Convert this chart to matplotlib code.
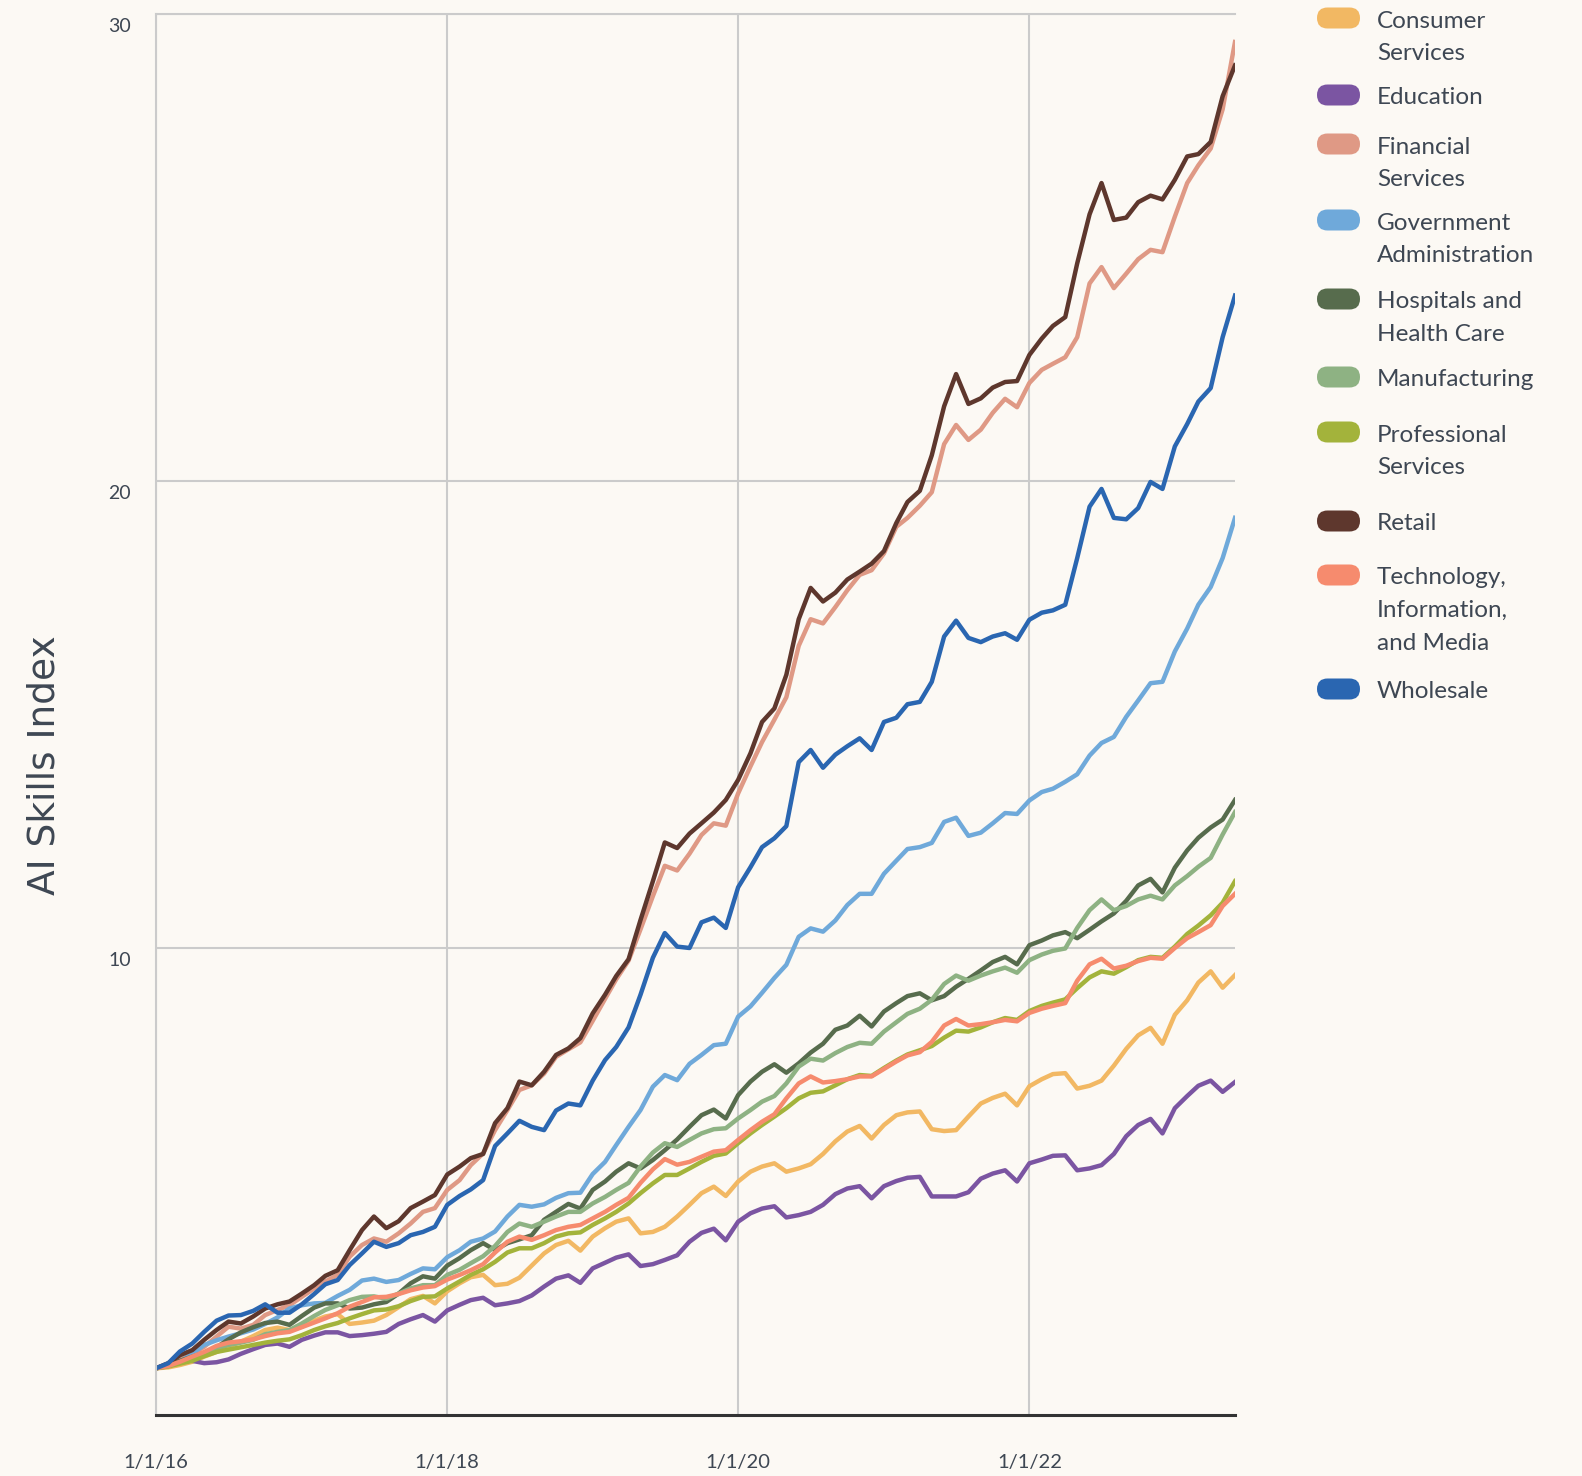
import matplotlib
matplotlib.use('Agg')
import matplotlib.pyplot as plt
import matplotlib.transforms as mtransforms
from matplotlib.patches import FancyBboxPatch
import pandas as pd

# monthly index values, Jan 2016 .. Jun 2023
months = pd.date_range('2016-01-01', periods=90, freq='MS')

consumer = [1.0, 1.02, 1.07, 1.14, 1.25, 1.35, 1.46, 1.57, 1.69, 1.82,
            1.87, 1.82, 1.89, 2.02, 2.11, 2.16, 1.95, 1.98, 2.02, 2.14,
            2.31, 2.48, 2.55, 2.39, 2.65, 2.82, 2.95, 3.0, 2.78, 2.81,
            2.94, 3.2, 3.46, 3.64, 3.73, 3.52, 3.82, 4.0, 4.14, 4.21,
            3.89, 3.92, 4.03, 4.25, 4.5, 4.75, 4.89, 4.69, 5.0, 5.21,
            5.32, 5.39, 5.21, 5.28, 5.37, 5.59, 5.86, 6.07, 6.19, 5.92,
            6.21, 6.42, 6.48, 6.5, 6.12, 6.08, 6.1, 6.39, 6.67, 6.79,
            6.88, 6.63, 7.04, 7.19, 7.3, 7.32, 6.99, 7.05, 7.16, 7.48,
            7.84, 8.13, 8.29, 7.95, 8.57, 8.88, 9.26, 9.5, 9.15, 9.42]
education = [1.0, 1.09, 1.18, 1.16, 1.11, 1.13, 1.19, 1.31, 1.41, 1.5,
             1.53, 1.46, 1.61, 1.7, 1.77, 1.77, 1.69, 1.71, 1.74, 1.78,
             1.95, 2.05, 2.14, 2.0, 2.24, 2.36, 2.46, 2.51, 2.35, 2.39,
             2.44, 2.56, 2.75, 2.92, 2.99, 2.83, 3.14, 3.26, 3.37, 3.44,
             3.19, 3.23, 3.32, 3.42, 3.71, 3.9, 3.99, 3.74, 4.14, 4.32,
             4.42, 4.47, 4.23, 4.28, 4.35, 4.5, 4.73, 4.85, 4.9, 4.64,
             4.9, 5.01, 5.08, 5.1, 4.68, 4.68, 4.68, 4.77, 5.06, 5.17,
             5.24, 5.0, 5.39, 5.47, 5.55, 5.56, 5.24, 5.28, 5.35, 5.59,
             5.97, 6.21, 6.34, 6.03, 6.57, 6.83, 7.05, 7.16, 6.92, 7.13]
financial = [1.0, 1.07, 1.18, 1.31, 1.46, 1.68, 1.89, 1.85, 1.93, 2.14,
             2.25, 2.35, 2.53, 2.71, 2.86, 3.0, 3.39, 3.64, 3.78, 3.71,
             3.89, 4.1, 4.35, 4.43, 4.82, 5.03, 5.35, 5.6, 6.1, 6.53,
             6.96, 7.06, 7.31, 7.67, 7.83, 7.98, 8.44, 8.91, 9.33, 9.73,
             10.4, 11.11, 11.76, 11.66, 12.02, 12.42, 12.67, 12.62, 13.31, 13.89,
             14.41, 14.89, 15.37, 16.47, 17.04, 16.95, 17.3, 17.66, 17.99, 18.09,
             18.45, 19.02, 19.21, 19.47, 19.76, 20.79, 21.2, 20.88, 21.1, 21.46,
             21.76, 21.58, 22.1, 22.38, 22.51, 22.65, 23.08, 24.23, 24.58, 24.13,
             24.44, 24.75, 24.95, 24.9, 25.66, 26.38, 26.76, 27.12, 27.96, 29.4]
government = [1.0, 1.05, 1.14, 1.31, 1.5, 1.6, 1.68, 1.75, 1.83, 1.95,
              2.09, 2.28, 2.35, 2.39, 2.4, 2.55, 2.68, 2.88, 2.92, 2.85,
              2.89, 3.02, 3.14, 3.12, 3.38, 3.53, 3.71, 3.78, 3.93, 4.25,
              4.5, 4.46, 4.51, 4.65, 4.75, 4.76, 5.16, 5.42, 5.78, 6.17,
              6.53, 7.03, 7.28, 7.17, 7.52, 7.71, 7.92, 7.95, 8.53, 8.75,
              9.04, 9.36, 9.64, 10.24, 10.42, 10.35, 10.59, 10.92, 11.16, 11.16,
              11.59, 11.87, 12.12, 12.16, 12.25, 12.7, 12.79, 12.4, 12.47, 12.67,
              12.89, 12.87, 13.16, 13.34, 13.41, 13.56, 13.72, 14.12, 14.39, 14.52,
              14.95, 15.3, 15.67, 15.7, 16.35, 16.84, 17.35, 17.73, 18.35, 19.21]
hospitals = [1.0, 1.07, 1.16, 1.25, 1.33, 1.45, 1.62, 1.77, 1.88, 1.97,
             2.0, 1.93, 2.12, 2.3, 2.39, 2.39, 2.28, 2.3, 2.37, 2.42,
             2.6, 2.82, 2.97, 2.92, 3.2, 3.36, 3.53, 3.68, 3.53, 3.68,
             3.76, 3.85, 4.18, 4.35, 4.52, 4.42, 4.82, 5.0, 5.21, 5.39,
             5.28, 5.46, 5.67, 5.9, 6.17, 6.42, 6.54, 6.35, 6.85, 7.14,
             7.35, 7.51, 7.33, 7.53, 7.76, 7.95, 8.25, 8.34, 8.55, 8.32,
             8.64, 8.82, 8.97, 9.03, 8.88, 8.97, 9.17, 9.34, 9.52, 9.7,
             9.81, 9.65, 10.06, 10.16, 10.27, 10.34, 10.21, 10.39, 10.57, 10.74,
             11.01, 11.34, 11.48, 11.19, 11.72, 12.09, 12.36, 12.58, 12.75, 13.17]
manufacturing = [1.0, 1.05, 1.12, 1.21, 1.33, 1.42, 1.5, 1.55, 1.61, 1.73,
                 1.78, 1.82, 1.96, 2.12, 2.25, 2.35, 2.46, 2.53, 2.54, 2.49,
                 2.6, 2.71, 2.78, 2.78, 3.0, 3.11, 3.25, 3.4, 3.62, 3.92,
                 4.1, 4.03, 4.14, 4.25, 4.35, 4.35, 4.53, 4.67, 4.82, 4.97,
                 5.32, 5.62, 5.82, 5.74, 5.89, 6.03, 6.12, 6.14, 6.35, 6.53,
                 6.71, 6.83, 7.1, 7.46, 7.63, 7.59, 7.75, 7.88, 7.97, 7.95,
                 8.21, 8.41, 8.59, 8.7, 8.89, 9.23, 9.41, 9.3, 9.41, 9.5,
                 9.58, 9.47, 9.74, 9.86, 9.94, 9.99, 10.43, 10.81, 11.04, 10.81,
                 10.9, 11.04, 11.12, 11.04, 11.34, 11.54, 11.74, 11.93, 12.43, 12.91]
professional = [1.0, 1.04, 1.1, 1.16, 1.26, 1.35, 1.4, 1.45, 1.5, 1.55,
                1.59, 1.62, 1.71, 1.82, 1.9, 1.97, 2.07, 2.16, 2.24, 2.26,
                2.33, 2.44, 2.53, 2.54, 2.71, 2.86, 3.0, 3.12, 3.28, 3.48,
                3.57, 3.57, 3.68, 3.82, 3.89, 3.91, 4.07, 4.21, 4.35, 4.53,
                4.75, 4.96, 5.14, 5.14, 5.28, 5.42, 5.55, 5.6, 5.82, 6.03,
                6.21, 6.39, 6.57, 6.78, 6.9, 6.93, 7.06, 7.19, 7.28, 7.26,
                7.43, 7.59, 7.72, 7.81, 7.9, 8.08, 8.23, 8.21, 8.3, 8.41,
                8.5, 8.46, 8.65, 8.76, 8.83, 8.9, 9.14, 9.37, 9.5, 9.45,
                9.59, 9.74, 9.81, 9.79, 10.03, 10.3, 10.48, 10.7, 10.97, 11.43]
retail = [1.0, 1.11, 1.28, 1.39, 1.61, 1.82, 2.0, 1.96, 2.11, 2.28,
          2.37, 2.43, 2.6, 2.78, 2.98, 3.1, 3.53, 3.96, 4.25, 4.0,
          4.15, 4.43, 4.57, 4.71, 5.15, 5.32, 5.5, 5.59, 6.25, 6.57,
          7.14, 7.06, 7.35, 7.71, 7.85, 8.07, 8.6, 9.0, 9.4, 9.76,
          10.6, 11.43, 12.26, 12.14, 12.45, 12.67, 12.9, 13.17, 13.6, 14.17,
          14.84, 15.13, 15.85, 17.04, 17.71, 17.42, 17.61, 17.89, 18.06, 18.23,
          18.5, 19.1, 19.55, 19.79, 20.55, 21.6, 22.29, 21.65, 21.77, 22.0,
          22.12, 22.14, 22.7, 23.05, 23.32, 23.51, 24.66, 25.71, 26.38, 25.59,
          25.64, 25.97, 26.11, 26.03, 26.45, 26.95, 27.0, 27.26, 28.24, 28.9]
technology = [1.0, 1.05, 1.14, 1.25, 1.35, 1.48, 1.55, 1.58, 1.62, 1.69,
              1.75, 1.78, 1.88, 1.98, 2.07, 2.18, 2.32, 2.42, 2.52, 2.53,
              2.59, 2.67, 2.73, 2.76, 2.9, 3.0, 3.1, 3.23, 3.48, 3.71,
              3.82, 3.75, 3.85, 3.96, 4.03, 4.07, 4.21, 4.35, 4.5, 4.65,
              4.97, 5.26, 5.48, 5.36, 5.42, 5.53, 5.64, 5.67, 5.89, 6.1,
              6.28, 6.44, 6.78, 7.1, 7.25, 7.12, 7.15, 7.19, 7.25, 7.25,
              7.41, 7.57, 7.7, 7.77, 7.99, 8.34, 8.48, 8.34, 8.37, 8.41,
              8.46, 8.43, 8.61, 8.7, 8.76, 8.82, 9.3, 9.65, 9.77, 9.56,
              9.62, 9.72, 9.79, 9.77, 10.0, 10.21, 10.34, 10.49, 10.9, 11.16]
wholesale = [1.0, 1.11, 1.36, 1.53, 1.78, 2.02, 2.13, 2.14, 2.23, 2.37,
             2.19, 2.19, 2.37, 2.59, 2.8, 2.89, 3.21, 3.46, 3.71, 3.6,
             3.68, 3.85, 3.92, 4.03, 4.5, 4.69, 4.83, 5.03, 5.76, 6.03,
             6.3, 6.17, 6.1, 6.52, 6.67, 6.63, 7.16, 7.6, 7.88, 8.3,
             9.0, 9.79, 10.32, 10.03, 10.0, 10.55, 10.65, 10.43, 11.3, 11.73,
             12.16, 12.35, 12.61, 13.98, 14.24, 13.86, 14.14, 14.32, 14.49, 14.24,
             14.84, 14.93, 15.22, 15.27, 15.7, 16.67, 17.01, 16.64, 16.55, 16.67,
             16.74, 16.6, 17.03, 17.18, 17.23, 17.35, 18.35, 19.45, 19.83, 19.21,
             19.18, 19.42, 19.98, 19.83, 20.74, 21.22, 21.7, 21.99, 23.08, 23.97]

labels = ['Consumer\nServices', 'Education', 'Financial\nServices',
          'Government\nAdministration', 'Hospitals and\nHealth Care',
          'Manufacturing', 'Professional\nServices', 'Retail',
          'Technology,\nInformation,\nand Media', 'Wholesale']
series = [consumer, education, financial, government, hospitals,
          manufacturing, professional, retail, technology, wholesale]
colors = ['#F2B863', '#7B55A2', '#DF9985', '#6FA9DA', '#576C4D',
          '#8EB283', '#A3B33B', '#5E372D', '#F68B6E', '#2A66B1']

x_ticks = ['2016-01-01', '2018-01-01', '2020-01-01', '2022-01-01']
x_ticklabels = ['1/1/16', '1/1/18', '1/1/20', '1/1/22']
y_ticks = [10, 20, 30]

BG = '#FCF9F4'
TXT = '#3E4753'
GRID = '#CBCBCB'
W, H = 1582, 1476

fig = plt.figure(figsize=(W / 100, H / 100), dpi=100, facecolor=BG)
ax = fig.add_axes([156 / W, 1 - 1415 / H, (1235 - 156) / W, (1415 - 14) / H])
ax.set_facecolor(BG)

for vals, col in zip(series, colors):
    ax.plot(months, vals, color=col, linewidth=3.2)

ax.set_xlim(months[0], months[-1])
ax.set_ylim(0, 30)
ax.set_axisbelow(True)

ax.set_xticks(pd.to_datetime(x_ticks))
ax.set_xticklabels(x_ticklabels, fontsize=14.5, color=TXT, family='Lato')
ax.set_yticks(y_ticks)
ax.set_yticklabels([])
ax.tick_params(axis='both', length=0)
ax.tick_params(axis='x', pad=28)
ax.grid(True, color=GRID, linewidth=1.5)

for side in ['left', 'top']:
    ax.spines[side].set_color(GRID)
    ax.spines[side].set_linewidth(1.5)
ax.spines['right'].set_visible(False)
ax.spines['bottom'].set_color('#333333')
ax.spines['bottom'].set_linewidth(2.2)

# y tick labels sit just below their gridline
trans = mtransforms.blended_transform_factory(ax.transAxes, ax.transData)
off = mtransforms.ScaledTranslation(0, -3 / 72, fig.dpi_scale_trans)
for v in y_ticks:
    ax.text(-0.023, v, str(v), transform=trans + off, ha='right', va='top',
            fontsize=14, color=TXT, family='Lato')

fig.text(45 / W, 1 - 765 / H, 'AI Skills Index', rotation=90, ha='center',
         va='center', fontsize=27, color=TXT,
         family=['Liberation Sans Narrow', 'DejaVu Sans'])

# legend drawn in pixel space
lax = fig.add_axes([0, 0, 1, 1])
lax.set_xlim(0, W)
lax.set_ylim(H, 0)
lax.axis('off')
lax.patch.set_alpha(0)

legend_y = [18, 95, 144, 220, 299, 377, 432, 521, 575, 689]
for lab, col, cy in zip(labels, colors, legend_y):
    lax.add_patch(FancyBboxPatch((1317, cy - 10.5), 43, 21,
                                 boxstyle='round,pad=0,rounding_size=10.5',
                                 facecolor=col, edgecolor='none'))
    for k, line in enumerate(lab.split('\n')):
        lax.text(1377, cy + 3 + k * 32.5, line, fontsize=17.5, color=TXT,
                 ha='left', va='center', family='Lato')

fig.savefig('out.png', dpi=100, facecolor=BG)
